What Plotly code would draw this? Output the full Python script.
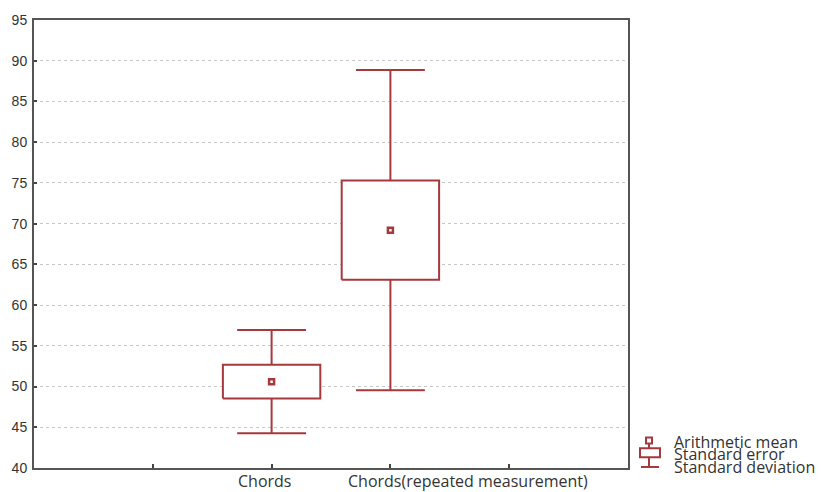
import plotly.graph_objects as go

# Summary statistics per group
categories = ["Chords", "Chords(repeated measurement)"]
cat_pos = [2, 3]
means = [50.6, 69.2]
std_err = [2.07, 6.1]
std_dev = [6.33, 19.65]
y_ticks = [40, 45, 50, 55, 60, 65, 70, 75, 80, 85, 90, 95]
legend_labels = ["Arithmetic mean", "Standard error", "Standard deviation"]

RED = "#a5393d"
BOX_HALF = 0.41
CAP_HALF = 0.29

fig = go.Figure()

# Whiskers (standard deviation) with caps
wx, wy = [], []
for c, m, se, sd in zip(cat_pos, means, std_err, std_dev):
    wx += [c, c, None, c, c, None,
           c - CAP_HALF, c + CAP_HALF, None, c - CAP_HALF, c + CAP_HALF, None]
    wy += [m + se, m + sd, None, m - se, m - sd, None,
           m + sd, m + sd, None, m - sd, m - sd, None]
fig.add_trace(go.Scatter(x=wx, y=wy, mode="lines",
                         line=dict(color=RED, width=2), hoverinfo="skip"))

# Boxes (standard error)
for c, m, se in zip(cat_pos, means, std_err):
    fig.add_trace(go.Scatter(
        x=[c - BOX_HALF, c + BOX_HALF, c + BOX_HALF, c - BOX_HALF, c - BOX_HALF],
        y=[m - se, m - se, m + se, m + se, m - se],
        mode="lines", fill="toself", fillcolor="white",
        line=dict(color=RED, width=2), hoverinfo="skip"))

# Means
fig.add_trace(go.Scatter(x=cat_pos, y=means, mode="markers",
                         marker=dict(symbol="square", size=5, color="white",
                                     line=dict(color=RED, width=2.5))))

fig.update_layout(
    width=823, height=492,
    margin=dict(l=34, r=195, t=13, b=24),
    paper_bgcolor="white", plot_bgcolor="white",
    showlegend=False,
    font=dict(family="Open Sans", color="#333333"),
)
fig.update_xaxes(
    range=[0, 5], tickvals=[1, 2, 3, 4], showticklabels=False,
    ticks="inside", ticklen=4, tickcolor="#444", tickwidth=1.5,
    showgrid=False, zeroline=False,
    showline=True, linecolor="#555555", linewidth=2, mirror=True,
)
fig.update_yaxes(
    range=[40, 95], tickvals=y_ticks,
    ticks="inside", ticklen=3, tickcolor="#444", tickwidth=1.5,
    tickfont=dict(family="Liberation Sans Narrow, Liberation Sans", size=14, color="#333"),
    ticklabelstandoff=2,
    showgrid=True, gridcolor="#c8c8c8", gridwidth=1, griddash="dot",
    zeroline=False,
    showline=True, linecolor="#555555", linewidth=2, mirror=True,
)

# Pixel helpers -> paper coords
PL, PT, PW, PH = 34, 13, 594, 455


def px(x):
    return (x - PL) / PW


def py(y):
    return (PT + PH - y) / PH


# Category labels under the axis
label_x = [cat_pos[0] - 0.06, cat_pos[1] + 0.65]
for lx, txt in zip(label_x, categories):
    fig.add_annotation(x=lx, y=py(481), xref="x", yref="paper",
                       text=txt, showarrow=False, xanchor="center", yanchor="middle",
                       height=20, valign="middle",
                       font=dict(family="Open Sans", size=16, color="#333"))

# Legend drawn beside the plot area
icon = dict(color=RED, width=2)
fig.add_shape(type="rect", xref="paper", yref="paper",
              x0=px(646), x1=px(652), y0=py(443), y1=py(437),
              line=dict(color=RED, width=2), fillcolor="white")
fig.add_shape(type="line", xref="paper", yref="paper",
              x0=px(649), x1=px(649), y0=py(443), y1=py(448), line=icon)
fig.add_shape(type="rect", xref="paper", yref="paper",
              x0=px(640), x1=px(660), y0=py(457), y1=py(448),
              line=icon, fillcolor="white")
fig.add_shape(type="line", xref="paper", yref="paper",
              x0=px(649), x1=px(649), y0=py(457), y1=py(467), line=icon)
fig.add_shape(type="line", xref="paper", yref="paper",
              x0=px(641), x1=px(659), y0=py(467), y1=py(467), line=icon)

for i, txt in enumerate(legend_labels):
    fig.add_annotation(x=px(672), y=py(441.5 + 12.6 * i), xref="paper", yref="paper",
                       text=txt, showarrow=False, xanchor="left", yanchor="middle",
                       font=dict(family="Open Sans", size=16, color="#333"))

fig.write_html("out.html")
